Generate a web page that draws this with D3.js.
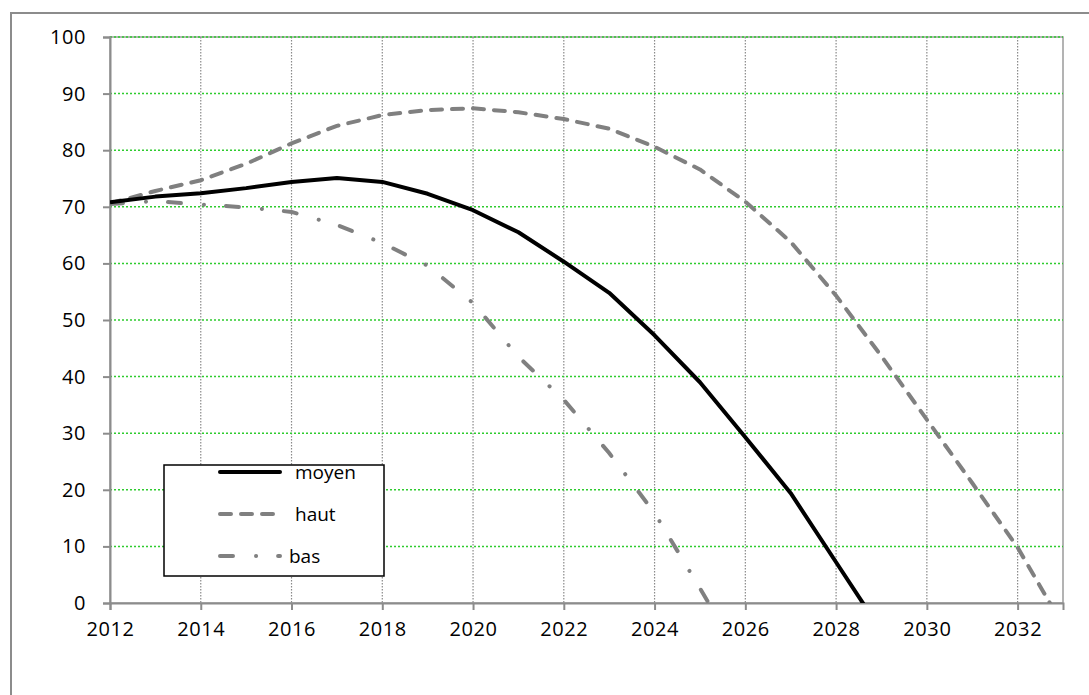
<!DOCTYPE html>
<html>
<head>
<meta charset="utf-8">
<script src="https://cdn.jsdelivr.net/npm/d3@7"></script>
<style>
  body { margin: 0; background: #fff; }
  text { font-family: "Open Sans", sans-serif; fill: #000; }
</style>
</head>
<body>
<div id="chart"></div>
<script>

// data
var years = [2012, 2013, 2014, 2015, 2016, 2017, 2018, 2019, 2020, 2021, 2022,
             2023, 2024, 2025, 2026, 2027, 2028, 2029, 2030, 2031, 2032, 2033];
var moyen = [70.8, 71.8, 72.4, 73.3, 74.4, 75.1, 74.4, 72.3, 69.4, 65.5, 60.3,
             54.8, 47.3, 39.0, 29.3, 19.4, 7.2, -5];
var haut  = [70.6, 72.8, 74.7, 77.6, 81.2, 84.3, 86.2, 87.1, 87.4, 86.7, 85.5,
             83.8, 80.6, 76.6, 70.9, 63.8, 54.3, 43.6, 32.4, 21.2, 9.8, -4];
var bas   = [70.5, 71.0, 70.4, 69.9, 69.1, 66.8, 63.6, 59.6, 53.0, 43.5, 35.9,
             26.5, 15.9, 2.6, -11];
var seriesNames = ["moyen", "haut", "bas"];
var yTicks = [0, 10, 20, 30, 40, 50, 60, 70, 80, 90, 100];
var xTicks = [2012, 2014, 2016, 2018, 2020, 2022, 2024, 2026, 2028, 2030, 2032];

var width = 1089, height = 695;
var plotLeft = 110, plotRight = 1063, plotTop = 37, plotBottom = 603;

var svg = d3.select("#chart").append("svg")
    .attr("width", width)
    .attr("height", height);

// outer frame
svg.append("rect")
    .attr("x", 11).attr("y", 13)
    .attr("width", 1100).attr("height", 700)
    .attr("fill", "none")
    .attr("stroke", "#8c8c8c")
    .attr("stroke-width", 2);

var x = d3.scaleLinear().domain([2012, 2033]).range([plotLeft, plotRight]);
var y = d3.scaleLinear().domain([0, 100]).range([plotBottom, plotTop]);

// plot border
svg.append("rect")
    .attr("x", plotLeft).attr("y", plotTop)
    .attr("width", plotRight - plotLeft).attr("height", plotBottom - plotTop)
    .attr("fill", "none")
    .attr("stroke", "#9a9a9a")
    .attr("stroke-width", 1.5);

// vertical grid
svg.append("g").selectAll("line")
    .data(xTicks.slice(1))
    .enter().append("line")
    .attr("x1", function(d) { return x(d); })
    .attr("x2", function(d) { return x(d); })
    .attr("y1", plotTop).attr("y2", plotBottom)
    .attr("stroke", "#8a8a8a")
    .attr("stroke-width", 1.2)
    .attr("stroke-dasharray", "1.5,1.5");

// horizontal grid
svg.append("g").selectAll("line")
    .data(yTicks.slice(1))
    .enter().append("line")
    .attr("x1", plotLeft).attr("x2", plotRight)
    .attr("y1", function(d) { return y(d); })
    .attr("y2", function(d) { return y(d); })
    .attr("stroke", "#2ecc2e")
    .attr("stroke-width", 1.5)
    .attr("stroke-dasharray", "2,2");

// axes
var yAxis = d3.axisLeft(y).tickValues(yTicks).tickSize(7).tickPadding(17);
var xAxis = d3.axisBottom(x).tickValues(xTicks).tickSize(7).tickPadding(12)
    .tickFormat(d3.format("d"));

var gy = svg.append("g")
    .attr("transform", "translate(" + plotLeft + ",0)")
    .call(yAxis);
var gx = svg.append("g")
    .attr("transform", "translate(0," + plotBottom + ")")
    .call(xAxis);

[gx, gy].forEach(function(g) {
  g.select(".domain").attr("stroke", "#8c8c8c").attr("stroke-width", 2);
  g.selectAll(".tick line").attr("stroke", "#8c8c8c").attr("stroke-width", 2);
  g.selectAll("text")
      .attr("font-family", "Open Sans, sans-serif")
      .attr("font-size", "20px")
      .attr("letter-spacing", "0.6px")
      .attr("fill", "#000");
});

// lines
svg.append("clipPath").attr("id", "clip")
  .append("rect")
    .attr("x", plotLeft).attr("y", plotTop - 5)
    .attr("width", plotRight - plotLeft).attr("height", plotBottom - plotTop + 5);

var line = d3.line()
    .x(function(d) { return x(d[0]); })
    .y(function(d) { return y(d[1]); });

function pairs(vals) {
  return vals.map(function(v, i) { return [years[i], v]; });
}

var styles = {
  moyen: { color: "#000000", dash: null, cap: "butt" },
  haut:  { color: "#808080", dash: "11,10", cap: "round" },
  bas:   { color: "#808080", dash: "13,23,0.1,22", cap: "round" }
};
var seriesData = { moyen: moyen, haut: haut, bas: bas };

var plot = svg.append("g").attr("clip-path", "url(#clip)");
["bas", "haut", "moyen"].forEach(function(name) {
  plot.append("path")
      .datum(pairs(seriesData[name]))
      .attr("d", line)
      .attr("fill", "none")
      .attr("stroke", styles[name].color)
      .attr("stroke-width", 4)
      .attr("stroke-linecap", styles[name].cap)
      .attr("stroke-linejoin", "round")
      .attr("stroke-dasharray", styles[name].dash);
});

// legend
var legend = svg.append("g");
legend.append("rect")
    .attr("x", 164).attr("y", 465)
    .attr("width", 220).attr("height", 111)
    .attr("fill", "#fff")
    .attr("stroke", "#000")
    .attr("stroke-width", 1.5);

var rows = legend.selectAll(".row")
    .data(seriesNames)
    .enter().append("g")
    .attr("class", "row")
    .attr("transform", function(d, i) { return "translate(0," + (472 + i * 42) + ")"; });

rows.append("line")
    .attr("x1", 220).attr("x2", 280)
    .attr("y1", 0).attr("y2", 0)
    .attr("stroke", function(d) { return styles[d].color; })
    .attr("stroke-width", 4)
    .attr("stroke-linecap", "round")
    .attr("stroke-dasharray", function(d) { return styles[d].dash; });

rows.append("text")
    .attr("x", function(d) { return d == "bas" ? 289 : 295; })
    .attr("y", 0)
    .attr("dy", "0.35em")
    .attr("font-size", "19px")
    .text(function(d) { return d; });

</script>
</body>
</html>
